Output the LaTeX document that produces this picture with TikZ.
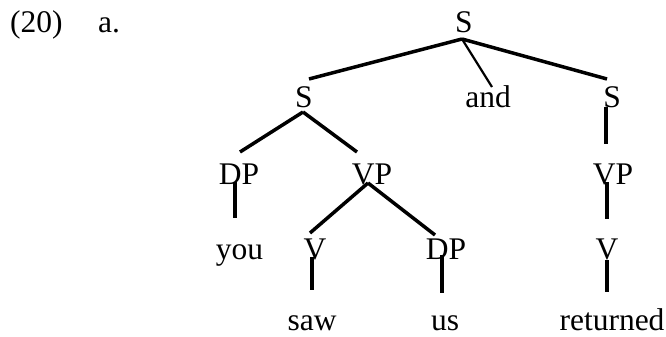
\documentclass[tikz,border=0pt]{standalone}
\usepackage{fontspec}
\setmainfont{Liberation Serif}
\usetikzlibrary{calc}
\tikzset{
  lab/.style={anchor=base, inner sep=0pt, font=\fontsize{31.5}{36}\selectfont},
  branch/.style={line width=3.5pt},
  thinbranch/.style={line width=2.2pt}
}
\begin{document}
\begin{tikzpicture}[x=1pt,y=1pt]
\useasboundingbox (0,0) rectangle (666,337);
% example labels
\node[lab, anchor=base west] (num) at (10,304) {(20)};
\node[lab, anchor=base west] (sub) at (98,304) {a.};
% tree nodes
\node[lab] (root) at (464,304) {S};
\node[lab] (s1) at (304,229) {S};
\node[lab] (and) at (488,229) {and};
\node[lab] (s2) at (612,229) {S};
\node[lab] (dp1) at (239,152) {DP};
\node[lab] (vp1) at (372,152) {VP};
\node[lab] (vp2) at (613,152) {VP};
\node[lab] (you) at (239.5,77) {you};
\node[lab] (v1) at (315,77) {V};
\node[lab] (dp2) at (446,77) {DP};
\node[lab] (v2) at (607,77) {V};
\node[lab] (saw) at (312,6.5) {saw};
\node[lab] (us) at (445,6.5) {us};
\node[lab] (ret) at (612,6.5) {returned};
% branches
\draw[branch] ($(root.base)+(-2,-6)$) -- ($(s1.base)+(5,29)$);
\draw[thinbranch] ($(root.base)+(-2,-6)$) -- ($(and.base)+(4,21)$);
\draw[branch] ($(root.base)+(-2,-6)$) -- ($(s2.base)+(-5,29)$);
\draw[branch] ($(s1.base)+(-1,-4)$) -- ($(dp1.base)+(1,33)$);
\draw[branch] ($(s1.base)+(-1,-4)$) -- ($(vp1.base)+(-15,33)$);
\draw[branch] ($(s2.base)+(-6,1)$) -- ($(vp2.base)+(-7,41)$);
\draw[branch] ($(dp1.base)+(-4,3)$) -- ($(you.base)+(-4.5,42)$);
\draw[branch] ($(vp1.base)+(-4,2)$) -- ($(v1.base)+(-5,27)$);
\draw[branch] ($(vp1.base)+(-4,2)$) -- ($(dp2.base)+(-11,25)$);
\draw[branch] ($(vp2.base)+(-6,3)$) -- ($(v2.base)+(0,41)$);
\draw[branch] ($(v1.base)+(-3,3)$) -- ($(saw.base)+(0,40.5)$);
\draw[branch] ($(dp2.base)+(-4,5)$) -- ($(us.base)+(-3,37.5)$);
\draw[branch] ($(v2.base)+(0,0)$) -- ($(ret.base)+(-5,38.5)$);
\end{tikzpicture}
\end{document}
